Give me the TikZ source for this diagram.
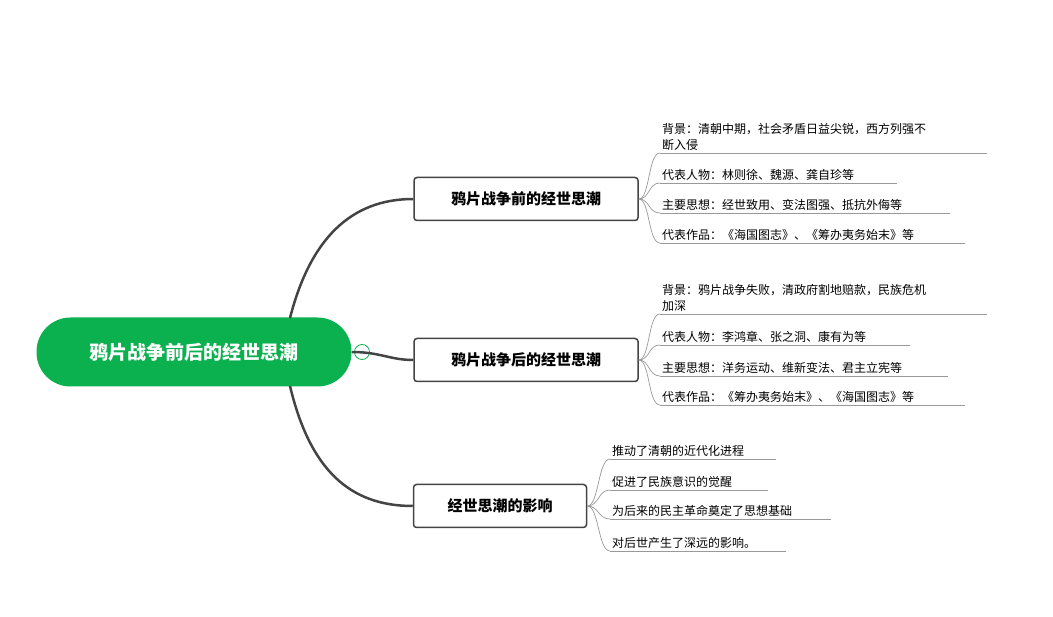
\documentclass[tikz,border=0pt]{standalone}
\usepackage{fontspec}
\setmainfont{Noto Sans CJK SC}
\usetikzlibrary{positioning}
\definecolor{mapgreen}{HTML}{0BB04F}
\definecolor{mapline}{HTML}{444444}
\tikzset{
  rootnode/.style={fill=mapgreen,text=white,rounded corners=34pt,minimum width=315pt,minimum height=69pt,font=\fontsize{19}{23}\selectfont\bfseries},
  topicnode/.style={draw=mapline,line width=1.5pt,rounded corners=3pt,minimum height=43pt,inner xsep=10pt,font=\fontsize{15}{19}\selectfont\bfseries},
  leaf/.style={anchor=south west,inner sep=2pt,align=left,text width=#1,font=\fontsize{12}{16}\selectfont},
  leaf/.default=320pt,
  mainlink/.style={draw=mapline,line width=2.5pt},
  sublink/.style={draw=gray!80,line width=0.7pt},
}
\begin{document}
\begin{tikzpicture}[x=1pt,y=-1pt]
  \useasboundingbox (0,0) rectangle (1053,617);
  \node[rootnode] (root) at (194,352) {鸦片战争前后的经世思潮};
  \node[circle,draw=mapgreen,fill=white,line width=0.8pt,minimum size=15pt,inner sep=0pt] (fold) at (362,352) {};
  \draw[mapgreen,line width=0.8pt] (357,352) -- (367,352);
  \node[topicnode,minimum width=224pt] (pre) at (526,199) {鸦片战争前的经世思潮};
  \node[topicnode,minimum width=224pt] (post) at (526,360) {鸦片战争后的经世思潮};
  \node[topicnode,minimum width=173pt] (eff) at (500,506) {经世思潮的影响};
  \draw[mainlink] (290,318) .. controls (310,240) and (350,199) .. (pre.west);
  \draw[mainlink] (352,352) .. controls (380,352) and (390,360) .. (post.west);
  \draw[mainlink] (290,386) .. controls (310,470) and (350,506) .. (eff.west);
  % leaves of first topic
  \coordinate (a1) at (660,153); \coordinate (a2) at (660,183);
  \coordinate (a3) at (660,213); \coordinate (a4) at (660,243);
  \node[leaf] (pa1) at (a1) {背景：清朝中期，社会矛盾日益尖锐，西方列强不\\断入侵};
  \node[leaf] (pa2) at (a2) {代表人物：林则徐、魏源、龚自珍等};
  \node[leaf] (pa3) at (a3) {主要思想：经世致用、变法图强、抵抗外侮等};
  \node[leaf] (pa4) at (a4) {代表作品：《海国图志》、《筹办夷务始末》等};
  \draw[sublink] (a1) -- (987,153);
  \draw[sublink] (a2) -- (897,183);
  \draw[sublink] (a3) -- (950,213);
  \draw[sublink] (a4) -- (965,243);
  \foreach \c in {a1,a2,a3,a4}
    \draw[sublink] (pre.east) .. controls (650,199) and (648,0|-\c) .. (\c);
  % leaves of second topic
  \coordinate (b1) at (660,314); \coordinate (b2) at (660,345);
  \coordinate (b3) at (660,376); \coordinate (b4) at (660,405);
  \node[leaf] (pb1) at (b1) {背景：鸦片战争失败，清政府割地赔款，民族危机\\加深};
  \node[leaf] (pb2) at (b2) {代表人物：李鸿章、张之洞、康有为等};
  \node[leaf] (pb3) at (b3) {主要思想：洋务运动、维新变法、君主立宪等};
  \node[leaf] (pb4) at (b4) {代表作品：《筹办夷务始末》、《海国图志》等};
  \draw[sublink] (b1) -- (987,314);
  \draw[sublink] (b2) -- (910,345);
  \draw[sublink] (b3) -- (948,376);
  \draw[sublink] (b4) -- (965,405);
  \foreach \c in {b1,b2,b3,b4}
    \draw[sublink] (post.east) .. controls (650,360) and (648,0|-\c) .. (\c);
  % leaves of third topic
  \coordinate (c1) at (610,459); \coordinate (c2) at (610,490);
  \coordinate (c3) at (610,519); \coordinate (c4) at (610,551);
  \node[leaf] (pc1) at (c1) {推动了清朝的近代化进程};
  \node[leaf] (pc2) at (c2) {促进了民族意识的觉醒};
  \node[leaf] (pc3) at (c3) {为后来的民主革命奠定了思想基础};
  \node[leaf] (pc4) at (c4) {对后世产生了深远的影响。};
  \draw[sublink] (c1) -- (776,459);
  \draw[sublink] (c2) -- (768,490);
  \draw[sublink] (c3) -- (831,519);
  \draw[sublink] (c4) -- (786,551);
  \foreach \c in {c1,c2,c3,c4}
    \draw[sublink] (eff.east) .. controls (599,506) and (598,0|-\c) .. (\c);
\end{tikzpicture}
\end{document}
